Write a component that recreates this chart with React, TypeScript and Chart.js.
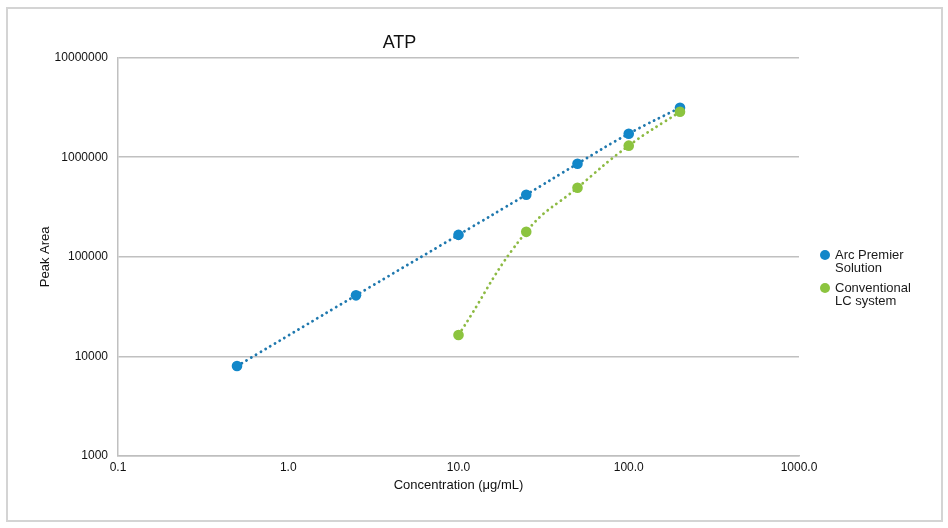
import React, { useEffect, useRef } from "react";
import { Chart, registerables } from "chart.js";

Chart.register(...registerables);

const concentrations = [0.5, 2.5, 10, 25, 50, 100, 200];
const arcPremier = [8000, 41000, 166000, 420000, 860000, 1720000, 3140000];
const convConcentrations = [10, 25, 50, 100, 200];
const conventional = [16400, 178000, 494000, 1306000, 2860000];

const xTickValues = [0.1, 1, 10, 100, 1000];
const xTickLabels = ["0.1", "1.0", "10.0", "100.0", "1000.0"];
const yTickValues = [1000, 10000, 100000, 1000000, 10000000];
const yTickLabels = ["1000", "10000", "100000", "1000000", "10000000"];

const seriesNames = [["Arc Premier", "Solution"], ["Conventional", "LC system"]];
const BLUE = "#1287c9";
const BLUE_LINE = "#1f78ae";
const GREEN = "#8cc43f";
const GREEN_LINE = "#8dba43";
const FONT = "'Liberation Sans', Arial, sans-serif";

const legendPlugin = {
  id: "customLegend",
  afterDraw(chart: any) {
    const ctx = chart.ctx;
    const colors = [BLUE, GREEN];
    const ys = [255, 288];
    ctx.save();
    ctx.font = `13px ${FONT}`;
    ctx.textBaseline = "middle";
    ctx.textAlign = "left";
    seriesNames.forEach((lines, i) => {
      ctx.fillStyle = colors[i];
      ctx.beginPath();
      ctx.arc(825, ys[i], 5, 0, Math.PI * 2);
      ctx.fill();
      ctx.fillStyle = "#1a1a1a";
      lines.forEach((t, j) => ctx.fillText(t, 835, ys[i] + j * 13));
    });
    ctx.restore();
  },
};

export default function App() {
  const ref = useRef<HTMLCanvasElement>(null);
  useEffect(() => {
    if (!ref.current) return;
    const chart = new Chart(ref.current, {
      type: "scatter",
      data: {
        datasets: [
          {
            label: seriesNames[0].join(" "),
            data: concentrations.map((x, i) => ({ x, y: arcPremier[i] })),
            showLine: true,
            borderColor: BLUE_LINE,
            borderWidth: 2.8,
            borderDash: [0.1, 5.4],
            borderCapStyle: "round",
            tension: 0.45,
            pointRadius: 5.3,
            pointBackgroundColor: BLUE,
            pointBorderWidth: 0,
            order: 1,
          },
          {
            label: seriesNames[1].join(" "),
            data: convConcentrations.map((x, i) => ({ x, y: conventional[i] })),
            showLine: true,
            borderColor: GREEN_LINE,
            borderWidth: 2.8,
            borderDash: [0.1, 5.4],
            borderCapStyle: "round",
            tension: 0.45,
            pointRadius: 5.3,
            pointBackgroundColor: GREEN,
            pointBorderWidth: 0,
            order: 0,
          },
        ] as any,
      },
      options: {
        responsive: false,
        animation: false,
        layout: { padding: { left: 0, right: 149, top: 0, bottom: 0 } },
        plugins: {
          legend: { display: false },
          tooltip: { enabled: false },
          title: {
            display: true,
            text: "ATP",
            color: "#111",
            font: { family: FONT, size: 18, weight: "normal" },
            padding: { top: 32, bottom: 4 },
          },
        },
        scales: {
          x: {
            type: "logarithmic",
            min: 0.1,
            max: 1000,
            afterBuildTicks: (s: any) => {
              s.ticks = xTickValues.map((v) => ({ value: v }));
            },
            afterFit: (s: any) => {
              s.height = 72;
            },
            ticks: {
              callback: (v: any) => xTickLabels[xTickValues.indexOf(Number(v))] ?? "",
              color: "#111",
              font: { family: FONT, size: 12 },
              padding: 4,
              maxRotation: 0,
              autoSkip: false,
            },
            grid: { display: false, drawTicks: false },
            border: { display: true, color: "#bfbfbf", width: 1.5 },
            title: {
              display: true,
              text: "Concentration (μg/mL)",
              color: "#111",
              font: { family: FONT, size: 13 },
              padding: { top: 0, bottom: 35 },
            },
          },
          y: {
            type: "logarithmic",
            min: 1000,
            max: 10000000,
            afterBuildTicks: (s: any) => {
              s.ticks = yTickValues.map((v) => ({ value: v }));
            },
            afterFit: (s: any) => {
              s.width = 118;
            },
            ticks: {
              callback: (v: any) => yTickLabels[yTickValues.indexOf(Number(v))] ?? "",
              color: "#111",
              font: { family: FONT, size: 12 },
              padding: 10,
              autoSkip: false,
            },
            grid: { color: "#c0c0c0", lineWidth: 1.5, drawTicks: false },
            border: { display: true, color: "#c0c0c0", width: 1.5 },
            title: {
              display: true,
              text: "Peak Area",
              color: "#111",
              font: { family: FONT, size: 13 },
              padding: { top: 38, bottom: 0 },
            },
          },
        },
      } as any,
      plugins: [legendPlugin],
    });
    return () => chart.destroy();
  }, []);

  return (
    <div style={{ position: "fixed", left: 0, top: 0, width: 948, height: 528, background: "#fff" }}>
      <div
        style={{
          position: "absolute",
          left: 6,
          top: 7,
          width: 937,
          height: 515,
          border: "2px solid #d4d4d4",
          boxSizing: "border-box",
        }}
      />
      <canvas ref={ref} width={948} height={528} style={{ position: "absolute", left: 0, top: 0 }} />
    </div>
  );
}
